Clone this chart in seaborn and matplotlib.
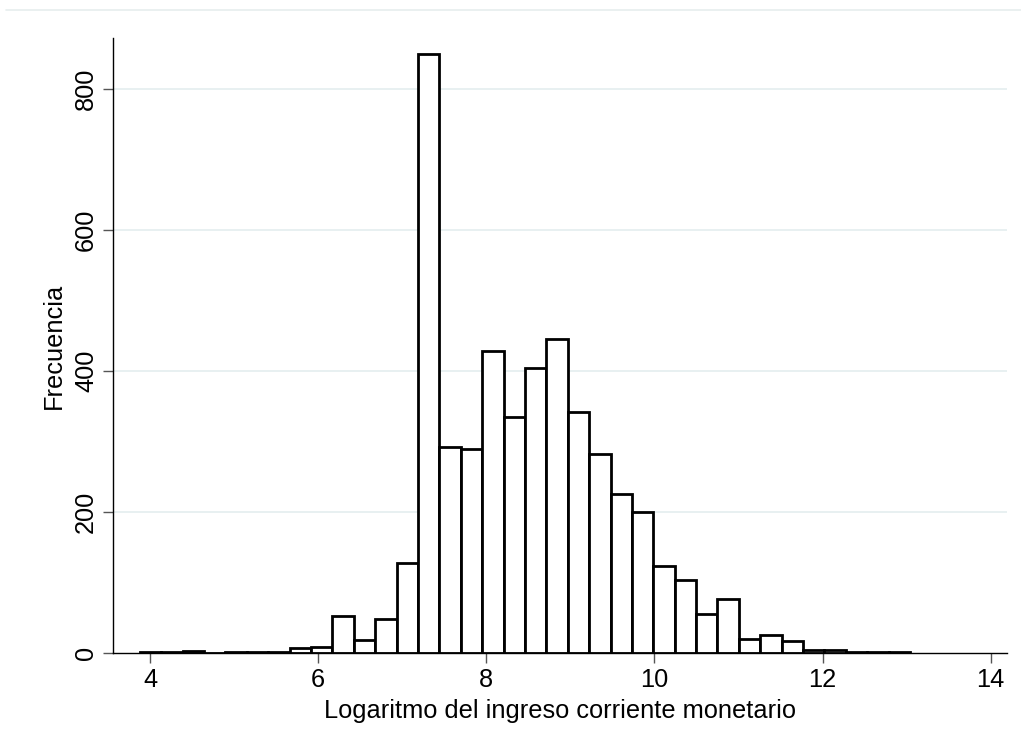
import numpy as np
import pandas as pd
import seaborn as sns
import matplotlib
matplotlib.use("Agg")
import matplotlib.pyplot as plt
from matplotlib.lines import Line2D

# Histogram of log current monetary income: 36 equal-width bins
bin_low = 3.88
bin_high = 13.04
n_bins = 36
counts = [2, 1, 3, 0, 2, 2, 2, 7, 9, 53, 18, 48,
          128, 850, 292, 290, 428, 335, 405, 445, 342, 282, 225, 200,
          123, 103, 55, 77, 20, 25, 17, 5, 4, 2, 1, 2]
x_ticks = [4, 6, 8, 10, 12, 14]
y_ticks = [0, 200, 400, 600, 800]

edges = np.linspace(bin_low, bin_high, n_bins + 1)
centers = (edges[:-1] + edges[1:]) / 2
df = pd.DataFrame({"ingreso": centers, "frecuencia": counts})

sns.set_style("white")
plt.rcParams["font.family"] = ["Liberation Sans", "DejaVu Sans"]
plt.rcParams["text.color"] = "black"
plt.rcParams["axes.labelcolor"] = "black"
plt.rcParams["xtick.color"] = "black"
plt.rcParams["ytick.color"] = "black"

fig = plt.figure(figsize=(10.21, 7.49), dpi=100)
ax = fig.add_axes([0.111, 0.128, 0.875, 0.821])

grid_color = "#e6eff0"
for y in y_ticks[1:]:
    ax.axhline(y, color=grid_color, lw=1.3, zorder=0)

sns.histplot(data=df, x="ingreso", weights="frecuencia", bins=n_bins,
             binrange=(bin_low, bin_high), stat="count",
             color="white", edgecolor="black", linewidth=2.0, alpha=1,
             ax=ax, zorder=2)

ax.set_xlim(3.564, 14.19)
ax.set_ylim(0, 872)
ax.set_xticks(x_ticks)
ax.set_yticks(y_ticks)
fs = 18.3
ax.set_xticklabels([str(t) for t in x_ticks], fontsize=fs)
ax.set_yticklabels([str(t) for t in y_ticks], fontsize=fs, rotation=90,
                   va="center")
ax.tick_params(axis="both", which="major", bottom=True, left=True,
               length=7, width=1.0, color="#555555", labelcolor="black",
               direction="out")
ax.tick_params(axis="x", pad=4)
ax.tick_params(axis="y", pad=4)

ax.set_xlabel("Logaritmo del ingreso corriente monetario", fontsize=fs,
              labelpad=5)
ax.set_ylabel("Frecuencia", fontsize=fs, labelpad=6)

sns.despine(ax=ax)
for side in ("left", "bottom"):
    ax.spines[side].set_color("black")
    ax.spines[side].set_linewidth(1.0)
ax.spines["bottom"].set_zorder(3)

# faint rule along the top of the graph region
fig.add_artist(Line2D([6 / 1021, 1.0], [1 - 10 / 749, 1 - 10 / 749],
                      transform=fig.transFigure, color="#e6eeee", lw=1.2))

fig.savefig("out.png", dpi=100, facecolor="white")
